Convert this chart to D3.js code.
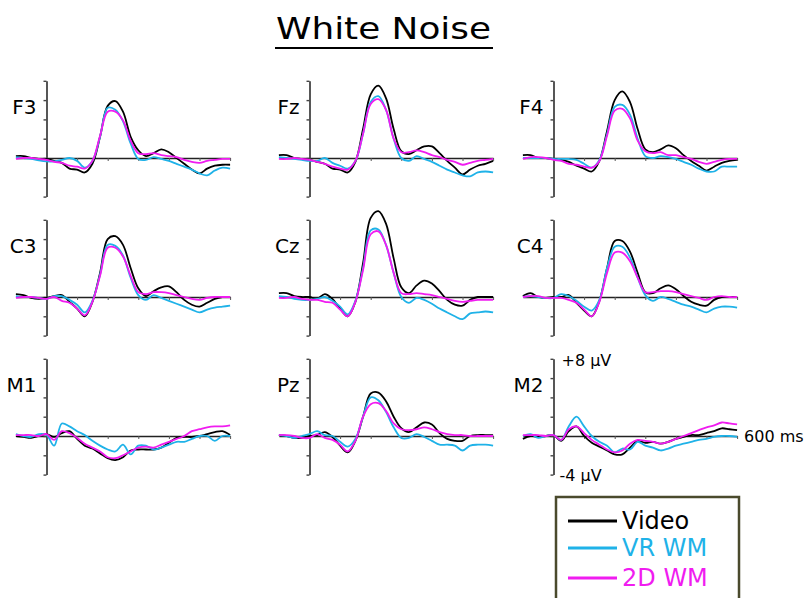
<!DOCTYPE html>
<html>
<head>
<meta charset="utf-8">
<script src="https://cdn.jsdelivr.net/npm/d3@7"></script>
<style>
    body { margin: 0; background: #fff; }
    svg { display: block; }
    text { font-family: "DejaVu Sans", sans-serif; }
</style>
</head>
<body>
<div id="chart"></div>
<script>
// time points (ms) shared by every trace
var times = [-100, -75, -50, -25, 0, 25, 50, 75, 100, 125, 150, 175, 200, 225, 250, 275,
             300, 325, 350, 375, 400, 425, 450, 475, 500, 525, 550, 575, 600];

var yTicks = [-4, -2, 0, 2, 4, 6, 8];
var xTicks = [100, 200, 300, 400, 500, 600];

var seriesNames = ["Video", "VR WM", "2D WM"];
var seriesColors = ["#000000", "#1fb2e8", "#f01cf0"];

// amplitudes in microvolts, one value per time point
var f3Video = [0.2,0.2,0,-0.1,-0.1,-0.3,-0.5,-1.1,-1.2,-1.5,-0.6,2.2,5.4,5.9,4.8,2.2,0.8,0.2,0.5,0.9,0.6,0.0,-0.6,-1.2,-1.6,-1.1,-0.8,-0.7,-0.7];
var f3Vr    = [0.1,0,-0.1,-0.25,-0.35,-0.35,-0.2,0.0,-0.3,-1.0,-0.3,2.2,5.2,5.0,3.8,1.5,-0.1,-0.2,0.1,-0.1,-0.3,-0.6,-0.9,-1.2,-1.6,-1.8,-1.3,-1.0,-1.1];
var f3Flat  = [-0.1,0,0,-0.1,-0.2,-0.4,-0.5,-0.8,-0.9,-1.1,-0.3,2.3,4.8,4.8,3.9,1.8,0.5,0.4,0.5,0.3,0.2,0.1,-0.2,-0.4,-0.5,-0.3,-0.2,-0.1,-0.1];

var fzVideo = [0.3,0.3,0.0,-0.1,-0.2,-0.4,-0.6,-1.1,-1.2,-1.5,-0.4,3.0,6.6,7.5,6.2,3.0,0.7,0.4,0.8,1.2,1.2,0.5,-0.3,-1.0,-1.7,-1.2,-0.8,-0.6,-0.3];
var fzVr    = [0.1,0,-0.1,-0.2,-0.3,-0.3,0.0,-0.5,-0.8,-1.1,-0.3,2.5,5.8,6.4,5.0,2.0,0.0,-0.3,0.2,-0.1,-0.4,-0.8,-1.2,-1.5,-1.8,-1.9,-1.5,-1.4,-1.5];
var fzFlat  = [-0.1,-0.1,0,-0.1,-0.2,-0.4,-0.6,-0.9,-1.1,-1.2,-0.3,2.5,5.6,6.1,5.0,2.0,0.6,0.6,0.8,0.6,0.3,0.1,-0.2,-0.4,-0.7,-0.5,-0.3,-0.2,-0.1];

var f4Video = [0.3,0.3,0.0,0.0,-0.1,-0.2,-0.4,-0.8,-1.1,-1.4,-0.3,2.8,6.0,6.9,5.8,3.0,0.9,0.6,0.9,1.3,1.0,0.3,-0.3,-0.8,-1.3,-0.9,-0.5,-0.3,-0.2];
var f4Vr    = [0,0,0,0,-0.1,-0.1,-0.1,-0.2,-0.6,-1.0,-0.2,2.5,5.3,5.5,4.5,2.0,0.2,0.0,0.2,0.1,-0.1,-0.4,-0.7,-1.1,-1.4,-1.4,-0.9,-0.9,-0.9];
var f4Flat  = [-0.1,0.1,0.1,0,-0.2,-0.3,-0.6,-0.7,-0.9,-1.0,-0.3,2.3,4.9,5.1,4.1,1.8,0.7,0.5,0.6,0.3,0.3,0.1,-0.1,-0.4,-0.6,-0.4,-0.2,-0.1,-0.1];

var c3Video = [0.3,0.2,-0.1,-0.2,-0.1,0.1,0.2,-0.5,-1.2,-2.0,-0.5,2.5,6.0,6.3,5.4,3.0,0.9,0.1,0.6,1.0,1.1,0.5,-0.3,-0.8,-1.0,-0.6,-0.2,0.0,0.0];
var c3Vr    = [0.1,0,0,-0.1,-0.2,0.1,0.1,-0.3,-0.8,-1.6,-0.4,2.3,5.4,5.3,4.3,2.0,0.2,-0.3,0.2,-0.1,-0.4,-0.7,-1.0,-1.3,-1.6,-1.3,-1.1,-1.0,-0.9];
var c3Flat  = [-0.1,0,0,-0.1,-0.2,0,-0.4,-0.6,-1.2,-1.9,-0.5,2.2,5.1,5.1,4.2,2.2,0.5,0.3,0.5,0.5,0.4,0.2,0,-0.2,-0.3,-0.1,0,0,0];

var czVideo = [0.4,0.4,0.1,0,0,-0.2,0.3,-0.2,-1.2,-2.0,-0.5,3.5,8.2,8.9,7.6,4.0,1.0,0.4,1.2,1.7,1.4,0.6,-0.3,-0.8,-0.9,-0.3,0,0,0];
var czVr    = [0.1,0,-0.2,-0.3,-0.3,-0.2,0,-0.4,-1.0,-1.8,-0.4,3.0,6.9,7.0,5.4,2.5,0,-0.6,-0.1,-0.3,-0.7,-1.2,-1.6,-2.0,-2.3,-1.7,-1.6,-1.5,-1.6];
var czFlat  = [-0.1,-0.1,0,-0.2,-0.3,-0.3,-0.5,-0.6,-1.3,-2.0,-0.5,2.8,6.5,6.8,5.4,2.5,0.4,0.3,0.4,0.3,0.2,0,-0.2,-0.4,-0.5,-0.4,-0.3,-0.3,-0.3];

var c4Video = [0.1,0.4,0,-0.1,0,0,0.2,-0.6,-1.4,-2.0,-0.4,3.0,5.8,5.8,4.7,2.5,0.5,0.4,0.9,1.2,0.8,0.1,-0.5,-0.8,-0.9,-0.3,0,0,0];
var c4Vr    = [0,0.1,0,-0.1,-0.1,0.3,0.1,-0.4,-1.0,-1.4,-0.3,3.0,5.2,5.2,4.1,2.0,0.2,-0.4,0,-0.2,-0.5,-0.8,-1.0,-1.3,-1.6,-1.2,-1.0,-1.0,-1.1];
var c4Flat  = [0,0.1,0.1,-0.1,-0.1,-0.1,-0.3,-0.6,-1.3,-2.0,-0.5,2.5,4.6,4.6,3.7,2.0,0.5,0.5,0.6,0.6,0.5,0.3,0.1,-0.1,-0.3,0,0.1,0,0];

var m1Video = [0,-0.1,-0.2,0,0.2,-0.1,0.3,0.5,-0.3,-1.0,-1.3,-1.8,-2.3,-2.5,-2.2,-1.5,-1.4,-1.4,-1.4,-1.2,-0.7,-0.2,-0.1,-0.1,0,0.2,0.4,0.5,0.1];
var m1Vr    = [0.2,0,-0.1,0.2,0.1,-1.0,1.3,1.0,0.5,0.1,-0.5,-1.0,-1.4,-1.6,-0.9,-1.9,-1.0,-1.0,-1.4,-1.2,-0.9,-0.6,-0.6,-0.3,0,0,-0.5,0,0];
var m1Flat  = [0.1,0.1,0.1,0,0.2,-0.4,0.5,0.3,-0.2,-0.8,-1.2,-1.6,-2.2,-2.3,-2.0,-1.6,-1.2,-1.1,-1.2,-0.9,-0.6,-0.3,0,0.5,0.7,0.9,1.0,1.0,1.1];

var pzVideo = [0.1,0,-0.2,-0.2,0,0.1,0.4,-0.1,-1.0,-1.7,-0.5,2.0,4.4,4.5,3.6,2.0,0.8,0.4,0.9,1.4,1.2,0.3,-0.3,-0.5,-0.5,0,0.1,0.1,0.1];
var pzVr    = [0.1,0,-0.2,0,0.2,0.5,0.1,0,-0.6,-1.1,-0.3,2.0,4.0,3.7,2.5,0.9,-0.2,-0.2,0.2,-0.1,-0.5,-0.9,-0.9,-1.0,-1.5,-1.0,-0.9,-0.9,-1.0];
var pzFlat  = [0.1,0.1,0,-0.2,-0.2,0.2,-0.2,-0.4,-0.9,-1.6,-0.5,2.0,3.3,3.4,2.6,1.3,0.7,0.6,0.7,0.9,0.7,0.4,0.2,0.1,0.1,0,0,0,0];

var m2Video = [-0.3,0,-0.1,0,0.1,-0.5,0.5,1.0,0,-0.7,-1.1,-1.5,-1.9,-1.9,-1.2,-0.5,-0.7,-0.6,-0.8,-0.6,-0.3,-0.1,0.1,0.1,0.3,0.5,0.8,0.7,0.6];
var m2Vr    = [0,0.2,-0.2,0,0.1,-0.4,1.0,2.0,1.0,0,-0.6,-1.0,-1.7,-1.3,-1.4,-0.6,-1.0,-1.2,-1.5,-1.3,-1.0,-0.8,-0.6,-0.4,-0.3,-0.1,0,0,-0.1];
var m2Flat  = [0.1,0.1,0.1,0,0.1,-0.4,0.7,1.0,0.3,-0.4,-0.9,-1.4,-1.7,-1.5,-0.8,-0.4,-0.5,-0.6,-0.8,-0.6,-0.3,0,0.3,0.6,0.9,1.1,1.4,1.3,1.2];

var panels = [
    {name: "F3", col: 0, row: 0, traces: [f3Video, f3Vr, f3Flat]},
    {name: "Fz", col: 1, row: 0, traces: [fzVideo, fzVr, fzFlat]},
    {name: "F4", col: 2, row: 0, traces: [f4Video, f4Vr, f4Flat]},
    {name: "C3", col: 0, row: 1, traces: [c3Video, c3Vr, c3Flat]},
    {name: "Cz", col: 1, row: 1, traces: [czVideo, czVr, czFlat]},
    {name: "C4", col: 2, row: 1, traces: [c4Video, c4Vr, c4Flat]},
    {name: "M1", col: 0, row: 2, traces: [m1Video, m1Vr, m1Flat]},
    {name: "Pz", col: 1, row: 2, traces: [pzVideo, pzVr, pzFlat]},
    {name: "M2", col: 2, row: 2, traces: [m2Video, m2Vr, m2Flat]}
];

var width = 807,
    height = 598;

var colX = [46.5, 309.5, 553.5];   // where the y axis (0 ms) sits
var rowZero = [158, 297, 436];      // where 0 uV sits
var pxPer100ms = 30.6,
    pxPerUv = 9.65;

var svg = d3.select("#chart")
    .append("svg")
    .attr("width", width)
    .attr("height", height);

// title
svg.append("text")
    .attr("x", 276)
    .attr("y", 39)
    .attr("textLength", 215)
    .attr("lengthAdjust", "spacingAndGlyphs")
    .style("font-size", "30px")
    .text("White Noise");

svg.append("line")
    .attr("x1", 275).attr("x2", 493)
    .attr("y1", 48).attr("y2", 48)
    .style("stroke", "#000")
    .style("stroke-width", 2);

panels.forEach(function (p) {
    var cx = colX[p.col],
        z = rowZero[p.row];

    var x = d3.scaleLinear()
        .domain([-100, 600])
        .range([cx - pxPer100ms, cx + 6 * pxPer100ms]);

    var y = d3.scaleLinear()
        .domain([-4, 8])
        .range([z + 4 * pxPerUv, z - 8 * pxPerUv]);

    var g = svg.append("g").attr("class", "panel");

    // zero line / time axis
    var xAxis = g.append("g")
        .attr("transform", "translate(0," + y(0) + ")")
        .call(d3.axisBottom(x).tickValues(xTicks).tickSize(3).tickSizeOuter(0).tickFormat(""));
    xAxis.select(".domain").style("stroke", "#222").style("stroke-width", 1.4);
    xAxis.selectAll(".tick line").style("stroke", "#555");

    // amplitude axis at 0 ms
    var yAxis = g.append("g")
        .attr("transform", "translate(" + cx + ",0)")
        .call(d3.axisLeft(y).tickValues(yTicks).tickSize(3).tickSizeOuter(0).tickFormat(""));
    yAxis.select(".domain").style("stroke", "#444").style("stroke-width", 1.8);
    yAxis.selectAll(".tick line").style("stroke", "#444").style("stroke-width", 1.4);

    var line = d3.line()
        .x(function (d, i) { return x(times[i]); })
        .y(function (d) { return y(d); })
        .curve(d3.curveCatmullRom.alpha(0.5));

    g.selectAll(".trace")
        .data(p.traces)
        .join("path")
        .attr("class", "trace")
        .attr("d", line)
        .style("fill", "none")
        .style("stroke", function (d, i) { return seriesColors[i]; })
        .style("stroke-width", 1.8);

    g.append("text")
        .attr("x", cx - 10)
        .attr("y", y(6) + 14)
        .attr("text-anchor", "end")
        .style("font-size", "20px")
        .text(p.name);

    // scale labels only on the last panel
    if (p.name === "M2") {
        g.append("text")
            .attr("x", cx + 8)
            .attr("y", y(8) + 7)
            .style("font-size", "16px")
            .text("+8 \u00b5V");
        g.append("text")
            .attr("x", cx + 6)
            .attr("y", y(-4) + 6)
            .style("font-size", "16px")
            .text("-4 \u00b5V");
        g.append("text")
            .attr("x", x(600) + 7)
            .attr("y", y(0) + 6)
            .style("font-size", "16px")
            .text("600 ms");
    }
});

// legend
var legend = svg.append("g").attr("transform", "translate(556,497)");

legend.append("rect")
    .attr("width", 183)
    .attr("height", 130)
    .style("fill", "#fff")
    .style("stroke", "#4a4a2c")
    .style("stroke-width", 2.5);

var rowY = [24, 51, 81];

legend.selectAll(".key")
    .data(seriesNames)
    .join("line")
    .attr("class", "key")
    .attr("x1", 12).attr("x2", 61)
    .attr("y1", function (d, i) { return rowY[i]; })
    .attr("y2", function (d, i) { return rowY[i]; })
    .style("stroke", function (d, i) { return seriesColors[i]; })
    .style("stroke-width", 3);

legend.selectAll(".keytext")
    .data(seriesNames)
    .join("text")
    .attr("class", "keytext")
    .attr("x", 66)
    .attr("y", function (d, i) { return rowY[i] + 8; })
    .style("font-size", "24px")
    .style("fill", function (d, i) { return seriesColors[i]; })
    .text(function (d) { return d; });
</script>
</body>
</html>
